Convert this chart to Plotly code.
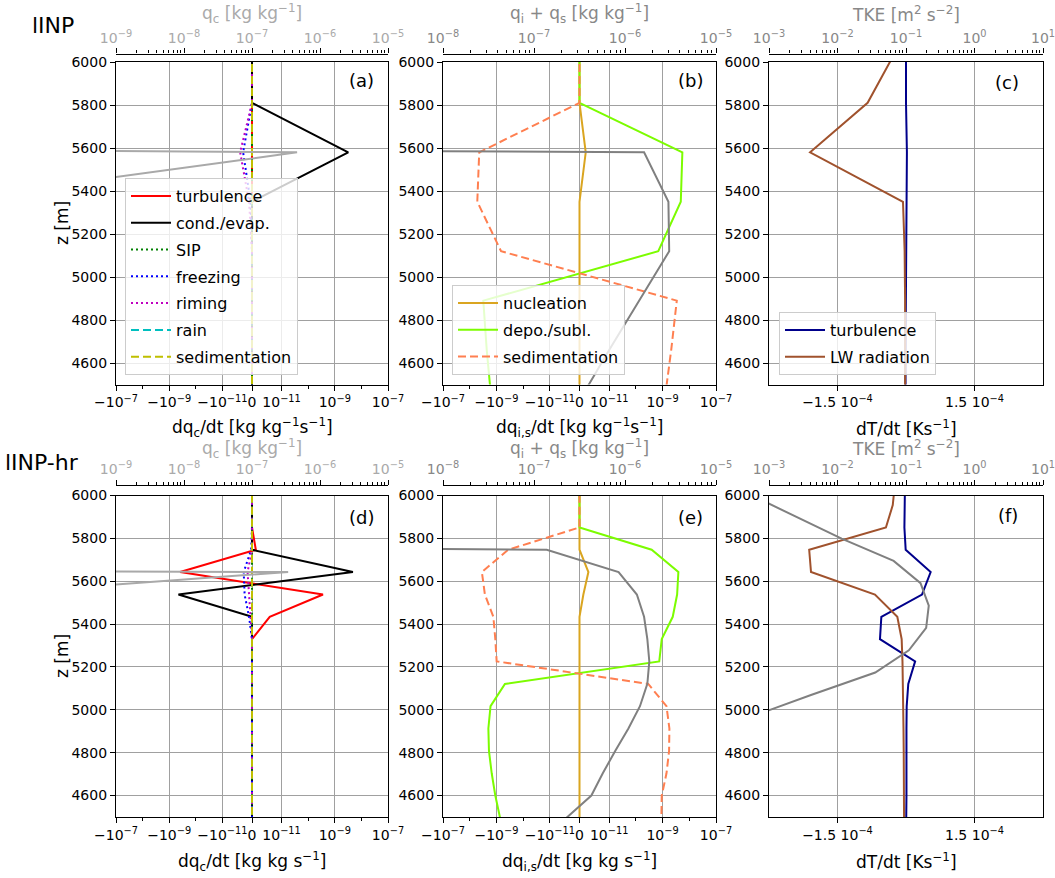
import numpy as np
import plotly.graph_objects as go

W, H = 1055, 878

# ---------------- data ----------------
# model levels (m)
z_lo = [6270, 6040, 5810, 5580, 5350, 5120, 4890, 4660, 4430]
z_hr = [6060, 5955, 5851, 5747, 5643, 5538, 5434, 5330, 5226, 5121,
        5017, 4913, 4808, 4704, 4600, 4496, 4391]
z_tke_hr = [6008, 5903, 5799, 5695, 5591, 5486, 5382, 5278, 5174, 5069,
            4965, 4861, 4756, 4652, 4548, 4444, 4339]

# panel (a): cloud water tendencies, lINP  [kg kg-1 s-1]
a_turb = [0, 0, 0, 0, 0, 0, 0, 0, 0]
a_cond = [0, 0, 0, 3.2e-9, 0, 0, 0, 0, 0]
a_sip = [0, 0, 0, 0, 0, 0, 0, 0, 0]
a_frz = [0, 0, 0, -3.0e-12, -5e-13, 0, 0, 0, 0]
a_rim = [0, 0, 0, -4.0e-12, -1e-12, 0, 0, 0, 0]
a_rain = [0, 0, 0, 0, 0, 0, 0, 0, 0]
a_sed = [0, 0, 0, 0, 0, 0, 0, 0, 0]
a_qc = [0, 0, 0, 4.6e-7, 2.2e-12, 0, 0, 0, 0]

# panel (b): ice + snow tendencies, lINP
b_nuc = [0, 0, 0, 2.1e-12, 0, 0, 0, 0, 0]
b_dep = [0, 0, 0, 5.5e-9, 4.8e-9, 6.9e-10, -3.1e-9, -2.3e-9, -1.55e-9]
b_sed = [0, 0, 0, -4.4e-9, -5.2e-9, -6.7e-10, 3.4e-9, 2.1e-9, 1.2e-9]
b_q = [0, 0, 0, 1.62e-6, 3.0e-6, 3.06e-6, 1.43e-6, 6.7e-7, 3.2e-7]

# panel (c): temperature tendencies, lINP [K s-1]
c_turb = [0, 0, 0, 2e-6, 1e-6, 0, -5e-7, -1e-6, -1e-6]
c_lw = [-1.5e-5, -2.5e-5, -8.4e-5, -2.1e-4, -6.6e-6, -3e-6, -2e-6, -2e-6, -2e-6]
c_tke = [0, 0, 0, 0, 0, 0, 0, 0, 0]

# panel (d): cloud water tendencies, lINP-hr
d_turb = [0, 0, 0, 1.3e-12, -3.9e-10, 3.6e-10, 6e-12, 0, 0, 0, 0, 0, 0, 0, 0, 0, 0]
d_cond = [0, 0, 0, 0, 4.8e-9, -4.5e-10, 0, 0, 0, 0, 0, 0, 0, 0, 0, 0, 0]
d_sip = [0] * 17
d_frz = [0, 0, 0, -3e-13, -2.8e-12, -2.5e-12, -1e-12, 0, 0, 0, 0, 0, 0, 0, 0, 0, 0]
d_rim = [0, 0, 0, 0, -1.5e-12, -1e-12, -3e-13, 0, 0, 0, 0, 0, 0, 0, 0, 0, 0]
d_rain = [0] * 17
d_sed = [0] * 17
d_qc = [0, 0, 0, 0, 3.4e-7, 8.5e-12, 0, 0, 0, 0, 0, 0, 0, 0, 0, 0, 0]

# panel (e): ice + snow tendencies, lINP-hr
e_nuc = [0, 0, 0, 0, 3e-12, 1.3e-12, 0, 0, 0, 0, 0, 0, 0, 0, 0, 0, 0]
e_dep = [0, 0, 0, 3.9e-10, 3.9e-9, 3.5e-9, 2.4e-9, 9.3e-10, 7.5e-10, -4.8e-10,
         -1.66e-9, -2.0e-9, -1.9e-9, -1.5e-9, -1.1e-9, -7.3e-10, -5e-10]
e_sed = [0, 0, 0, -3.6e-10, -3.5e-9, -2.7e-9, -1.3e-9, -1.1e-9, -9.8e-10, 2.9e-10,
         1.4e-9, 1.8e-9, 1.75e-9, 1.4e-9, 9.3e-10, 9e-10, 8e-10]
e_q = [0, 0, 0, 1.38e-7, 8.5e-7, 1.35e-6, 1.62e-6, 1.76e-6, 1.85e-6, 1.76e-6,
       1.46e-6, 1.09e-6, 7.8e-7, 5.7e-7, 4.27e-7, 2.24e-7, 1.2e-7]

# panel (f): temperature tendencies and TKE, lINP-hr
f_turb = [-2.2e-6, -2.2e-6, -3.5e-6, -7e-7, 5.4e-5, 3.5e-5, -5.4e-5, -5.7e-5, 2.0e-5,
          5e-6, 1.5e-6, 1e-6, 1.5e-6, 1e-6, 1e-6, 5e-7, 5e-7]
f_lw = [-2.4e-5, -2.9e-5, -4.4e-5, -2.12e-4, -2.08e-4, -6.8e-5, -1.9e-5, -9.5e-6,
        -7.7e-6, -6.6e-6, -6e-6, -5.5e-6, -5e-6, -4.5e-6, -4e-6, -4e-6, -4e-6]
f_tke = [5e-4, 2.4e-3, 1.15e-2, 6.6e-2, 1.63e-1, 2.15e-1, 1.97e-1, 1.1e-1, 3.56e-2,
         4.1e-3, 5.2e-4, 1e-4, 3e-5, 1e-5, 5e-6, 2e-6, 1e-6]

# tick labels
sym_major = [-1e-7, -1e-9, -1e-11, 0, 1e-11, 1e-9, 1e-7]
sym_major_text = ['−10<sup>−7</sup>', '−10<sup>−9</sup>', '−10<sup>−11</sup>', '0',
                  '10<sup>−11</sup>', '10<sup>−9</sup>', '10<sup>−7</sup>']
sym_minor = [-1e-8, -1e-10, 1e-10, 1e-8]
t_major = [-1.5e-4, 1.5e-4]
t_major_text = ['−1.5 10<sup>−4</sup>', '1.5 10<sup>−4</sup>']
z_ticks = [4600, 4800, 5000, 5200, 5400, 5600, 5800, 6000]

# ---------------- helpers ----------------
LT = 1e-11
LS = 1.0 / (1.0 - 0.1)


def symlog(v):
    v = np.asarray(v, float)
    a = np.abs(v)
    out = v / LT * LS
    big = a > LT
    out[big] = np.sign(v[big]) * (LS + np.log10(a[big] / LT))
    return out


def clip_log(v):
    v = np.asarray(v, float)
    return np.where(v > 0, v, 1e-100)


def sup(k):
    s = str(k).replace('-', '−')
    return '10<sup>%s</sup>' % s


FONT = 'DejaVu Sans'
GRID = '#a0a0a0'

XD = [[116 / W, 388 / W], [443 / W, 716 / W], [769 / W, 1043 / W]]
YD = [[1 - 384.5 / H, 1 - 62 / H], [1 - 817 / H, 1 - 495.5 / H]]
TOPPOS = [1 - 53.5 / H, 1 - 485 / H]

fig = go.Figure()
layout = {}

top_ranges = [(-9, -5), (-8, -5), (-3, 1)]
top_colors = ['#aaaaaa', '#888888', '#888888']

for p in range(6):
    row, col = divmod(p, 3)
    xb, xt, yi = 2 * p + 1, 2 * p + 2, p + 1
    xbn = 'xaxis' if xb == 1 else 'xaxis%d' % xb
    ybn = 'yaxis' if yi == 1 else 'yaxis%d' % yi
    if col < 2:
        tv = list(symlog(sym_major))
        tt = sym_major_text
        mv = list(symlog(sym_minor))
        rng = [-(LS + 4), LS + 4]
    else:
        tv = t_major
        tt = t_major_text
        mv = []
        rng = [-3e-4, 3e-4]
    layout[xbn] = dict(
        domain=XD[col], anchor='y' if yi == 1 else 'y%d' % yi, range=rng,
        tickmode='array', tickvals=tv, ticktext=tt, tickangle=0, automargin=False,
        ticklabeloverflow='allow',
        ticks='outside', ticklen=5, tickwidth=1.2, tickcolor='black',
        showline=True, linecolor='black', linewidth=1.2, mirror=True,
        showgrid=True, gridcolor=GRID, gridwidth=1.3, zeroline=False,
        tickfont=dict(family=FONT, size=14, color='black'),
        minor=dict(tickmode='array', tickvals=mv, ticks='outside', ticklen=3,
                   tickwidth=1, tickcolor='black', showgrid=False),
    )
    lo, hi = top_ranges[col]
    majv = [10.0 ** k for k in range(lo, hi + 1)]
    majt = [sup(k) for k in range(lo, hi + 1)]
    minv = [m * 10.0 ** k for k in range(lo, hi) for m in range(2, 10)]
    layout['xaxis%d' % xt] = dict(
        type='log', range=[lo - 1e-6, hi + 1e-6], overlaying='x' if xb == 1 else 'x%d' % xb,
        side='top', anchor='free', position=TOPPOS[row], domain=XD[col],
        tickmode='array', tickvals=majv, ticktext=majt, tickangle=0, automargin=False,
        ticklabeloverflow='allow',
        ticks='outside', ticklen=5, tickwidth=1.2, tickcolor='black',
        showline=True, linecolor='black', linewidth=1.2, showgrid=False,
        zeroline=False,
        tickfont=dict(family=FONT, size=14, color=top_colors[col]),
        minor=dict(tickmode='array', tickvals=minv, ticks='outside', ticklen=3,
                   tickwidth=1, tickcolor='black', showgrid=False),
    )
    layout[ybn] = dict(
        domain=YD[row], anchor='x' if xb == 1 else 'x%d' % xb, range=[4500, 6000],
        tickmode='array', tickvals=z_ticks, automargin=False,
        ticks='outside', ticklen=5, tickwidth=1.2, tickcolor='black',
        showline=True, linecolor='black', linewidth=1.2, mirror=True,
        showgrid=True, gridcolor=GRID, gridwidth=1.3, zeroline=False,
        tickfont=dict(family=FONT, size=14, color='black'),
    )


def add(p, x, z, name, color, dash='solid', top=False, legend=None, width=2):
    xb, xt, yi = 2 * p + 1, 2 * p + 2, p + 1
    xa = ('x%d' % xt) if top else ('x' if xb == 1 else 'x%d' % xb)
    ya = 'y' if yi == 1 else 'y%d' % yi
    kw = {}
    if legend:
        kw['legend'] = legend
        kw['legendgroup'] = name + legend
    fig.add_trace(go.Scatter(
        x=x, y=z, mode='lines', name=name, xaxis=xa, yaxis=ya,
        line=dict(color=color, width=width, dash=dash),
        showlegend=legend is not None, **kw))


DOT = '2px,3px'
DASH = '8px,4px'
C_RED, C_K, C_G, C_B, C_M, C_C, C_Y = '#ff0000', '#000000', '#008000', '#0000ff', '#bf00bf', '#00bfbf', '#bfbf00'

# (a) and (d)
for p, zz, data, leg in [(0, z_lo, (a_turb, a_cond, a_sip, a_frz, a_rim, a_rain, a_sed, a_qc), 'legend'),
                         (3, z_hr, (d_turb, d_cond, d_sip, d_frz, d_rim, d_rain, d_sed, d_qc), None)]:
    tu, co, si, fr, ri, ra, se, qc = data
    add(p, clip_log(qc), zz, 'q_c', '#a9a9a9', top=True)
    add(p, symlog(tu), zz, 'turbulence', C_RED, legend=leg)
    add(p, symlog(co), zz, 'cond./evap.', C_K, legend=leg)
    add(p, symlog(si), zz, 'SIP', C_G, DOT, legend=leg)
    add(p, symlog(fr), zz, 'freezing', C_B, DOT, legend=leg)
    add(p, symlog(ri), zz, 'riming', C_M, DOT, legend=leg)
    add(p, symlog(ra), zz, 'rain', C_C, DASH, legend=leg)
    add(p, symlog(se), zz, 'sedimentation', C_Y, DASH, legend=leg)

# (b) and (e)
for p, zz, data, leg in [(1, z_lo, (b_nuc, b_dep, b_sed, b_q), 'legend2'),
                         (4, z_hr, (e_nuc, e_dep, e_sed, e_q), None)]:
    nu, de, se, q = data
    add(p, clip_log(q), zz, 'q_i+q_s', '#808080', top=True)
    add(p, symlog(nu), zz, 'nucleation', '#daa520', legend=leg)
    add(p, symlog(de), zz, 'depo./subl.', '#7cfc00', legend=leg)
    add(p, symlog(se), zz, 'sedimentation', '#ff7f50', DASH, legend=leg)

# (c) and (f)
add(2, clip_log(c_tke), z_lo, 'TKE', '#808080', top=True)
add(2, c_turb, z_lo, 'turbulence', '#00008b', legend='legend3')
add(2, c_lw, z_lo, 'LW radiation', '#a0522d', legend='legend3')
add(5, clip_log(f_tke), z_tke_hr, 'TKE', '#808080', top=True)
add(5, f_turb, z_hr, 'turbulence', '#00008b')
add(5, f_lw, z_hr, 'LW radiation', '#a0522d')

legend_common = dict(xanchor='left', yanchor='bottom', bgcolor='rgba(255,255,255,0.8)',
                     bordercolor='#cccccc', borderwidth=1,
                     font=dict(family=FONT, size=16, color='black'),
                     tracegroupgap=3, itemwidth=40)
layout['legend'] = dict(x=125 / W, y=1 - 375 / H, **legend_common)
layout['legend2'] = dict(x=452 / W, y=1 - 375 / H, **legend_common)
layout['legend3'] = dict(x=779 / W, y=1 - 375 / H, **legend_common)

ann = []


def text(x, y, s, size=16, color='black', angle=0, xanchor='center'):
    ann.append(dict(x=x / W, y=1 - y / H, xref='paper', yref='paper', text=s,
                    showarrow=False, textangle=angle, xanchor=xanchor, yanchor='middle',
                    font=dict(family=FONT, size=size, color=color)))


text(30, 25, 'lINP', 22, xanchor='left')
text(3, 462, 'lINP-hr', 22, xanchor='left')
for lab, x, y in [('(a)', 361, 81), ('(b)', 690, 81), ('(c)', 1007, 83),
                  ('(d)', 361, 517), ('(e)', 690, 517), ('(f)', 1008, 515)]:
    text(x, y, lab, 18)

centers = [252, 579.5, 906]
bot_titles = [['dq<sub>c</sub>/dt [kg kg<sup>−1</sup>s<sup>−1</sup>]',
               'dq<sub>i,s</sub>/dt [kg kg<sup>−1</sup>s<sup>−1</sup>]',
               'dT/dt [Ks<sup>−1</sup>]'],
              ['dq<sub>c</sub>/dt [kg kg s<sup>−1</sup>]',
               'dq<sub>i,s</sub>/dt [kg kg s<sup>−1</sup>]',
               'dT/dt [Ks<sup>−1</sup>]']]
top_titles = ['q<sub>c</sub> [kg kg<sup>−1</sup>]',
              'q<sub>i</sub> + q<sub>s</sub> [kg kg<sup>−1</sup>]',
              'TKE [m<sup>2</sup> s<sup>−2</sup>]']
for r, (yb, yt, ym) in enumerate([(428, 14, 223), (861, 448, 656)]):
    for c in range(3):
        text(centers[c], yb, bot_titles[r][c], 17)
        text(centers[c], yt, top_titles[c], 17, top_colors[c])
    text(62, ym, 'z [m]', 17, angle=-90)

layout['annotations'] = ann
fig.update_layout(width=W, height=H, margin=dict(l=0, r=0, t=0, b=0, autoexpand=False),
                  paper_bgcolor='white', plot_bgcolor='white',
                  font=dict(family=FONT, size=14, color='black'), **layout)

fig.write_html('out.html', config={'displayModeBar': False},
               post_script="document.body.style.margin='0px';document.body.style.padding='0px';")
